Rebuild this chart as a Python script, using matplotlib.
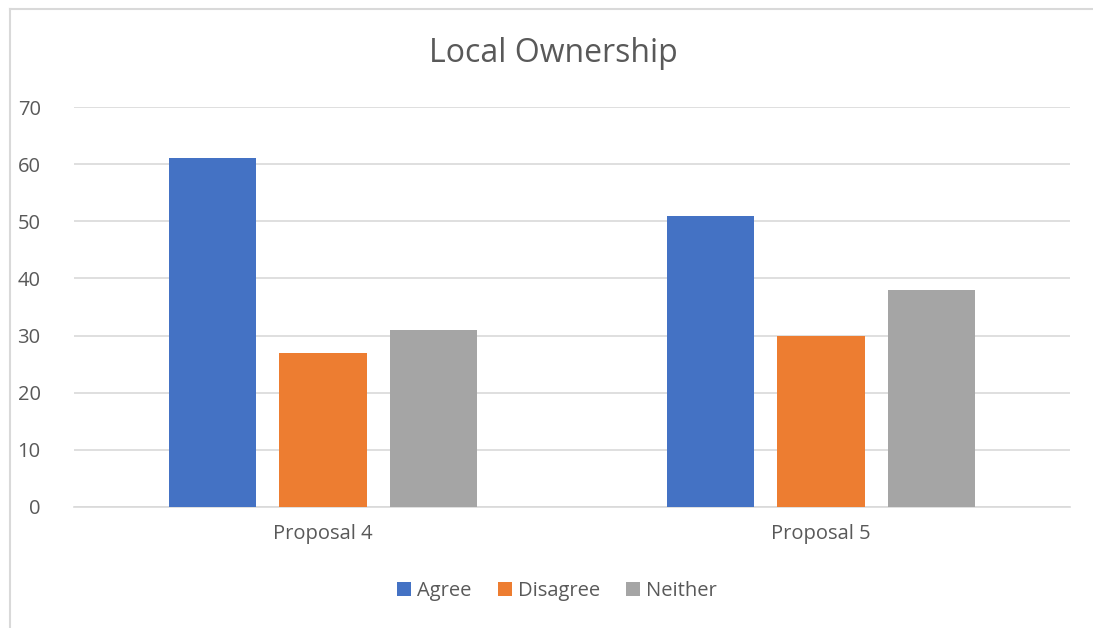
import numpy as np
import matplotlib.pyplot as plt
from matplotlib.lines import Line2D

plt.rcParams['font.family'] = ['Open Sans', 'DejaVu Sans']

categories = ["Proposal 4", "Proposal 5"]
series = ["Agree", "Disagree", "Neither"]
agree = [61, 51]
disagree = [27, 30]
neither = [31, 38]
colors = ["#4472C4", "#ED7D31", "#A5A5A5"]
text_col = "#595959"

fig = plt.figure(figsize=(10.93, 6.28), dpi=100)
ax = fig.add_axes([0.0677, 0.1927, 0.9113, 0.6369])

x = np.arange(len(categories))
w = 0.175
step = 0.222
for i, (vals, c, lab) in enumerate(zip([agree, disagree, neither], colors, series)):
    ax.bar(x + (i - 1) * step, vals, width=w, color=c, label=lab, zorder=3)

ax.set_xlim(-0.5, 1.5)
ax.set_ylim(0, 70)
ax.set_yticks(range(0, 71, 10))
ax.set_xticks(x)
ax.set_xticklabels(categories)
ax.grid(axis='y', color='#D9D9D9', linewidth=1.2, zorder=0)
for s in ['top', 'right', 'left']:
    ax.spines[s].set_visible(False)
ax.spines['bottom'].set_color('#D9D9D9')
ax.spines['bottom'].set_linewidth(1.2)
ax.tick_params(length=0, labelsize=14.5, colors=text_col)
ax.tick_params(axis='y', pad=24)
ax.tick_params(axis='x', pad=12)

fig.text(0.506, 0.915, "Local Ownership", ha='center', va='center',
         fontsize=23, color=text_col)

ax.legend(loc='center', bbox_to_anchor=(0.485, -0.21), ncol=3, frameon=False,
          fontsize=14.5, labelcolor=text_col, handlelength=0.7, handleheight=0.7,
          handletextpad=0.3, columnspacing=1.3)

# chart border, only top and left edges visible in the crop
fig.lines.append(Line2D([0.0087, 1.0], [0.986, 0.986], transform=fig.transFigure,
                        color='#D9D9D9', linewidth=1.5))
fig.lines.append(Line2D([0.0087, 0.0087], [0.0, 0.986], transform=fig.transFigure,
                        color='#D9D9D9', linewidth=1.5))

fig.savefig("out.png", dpi=100)
